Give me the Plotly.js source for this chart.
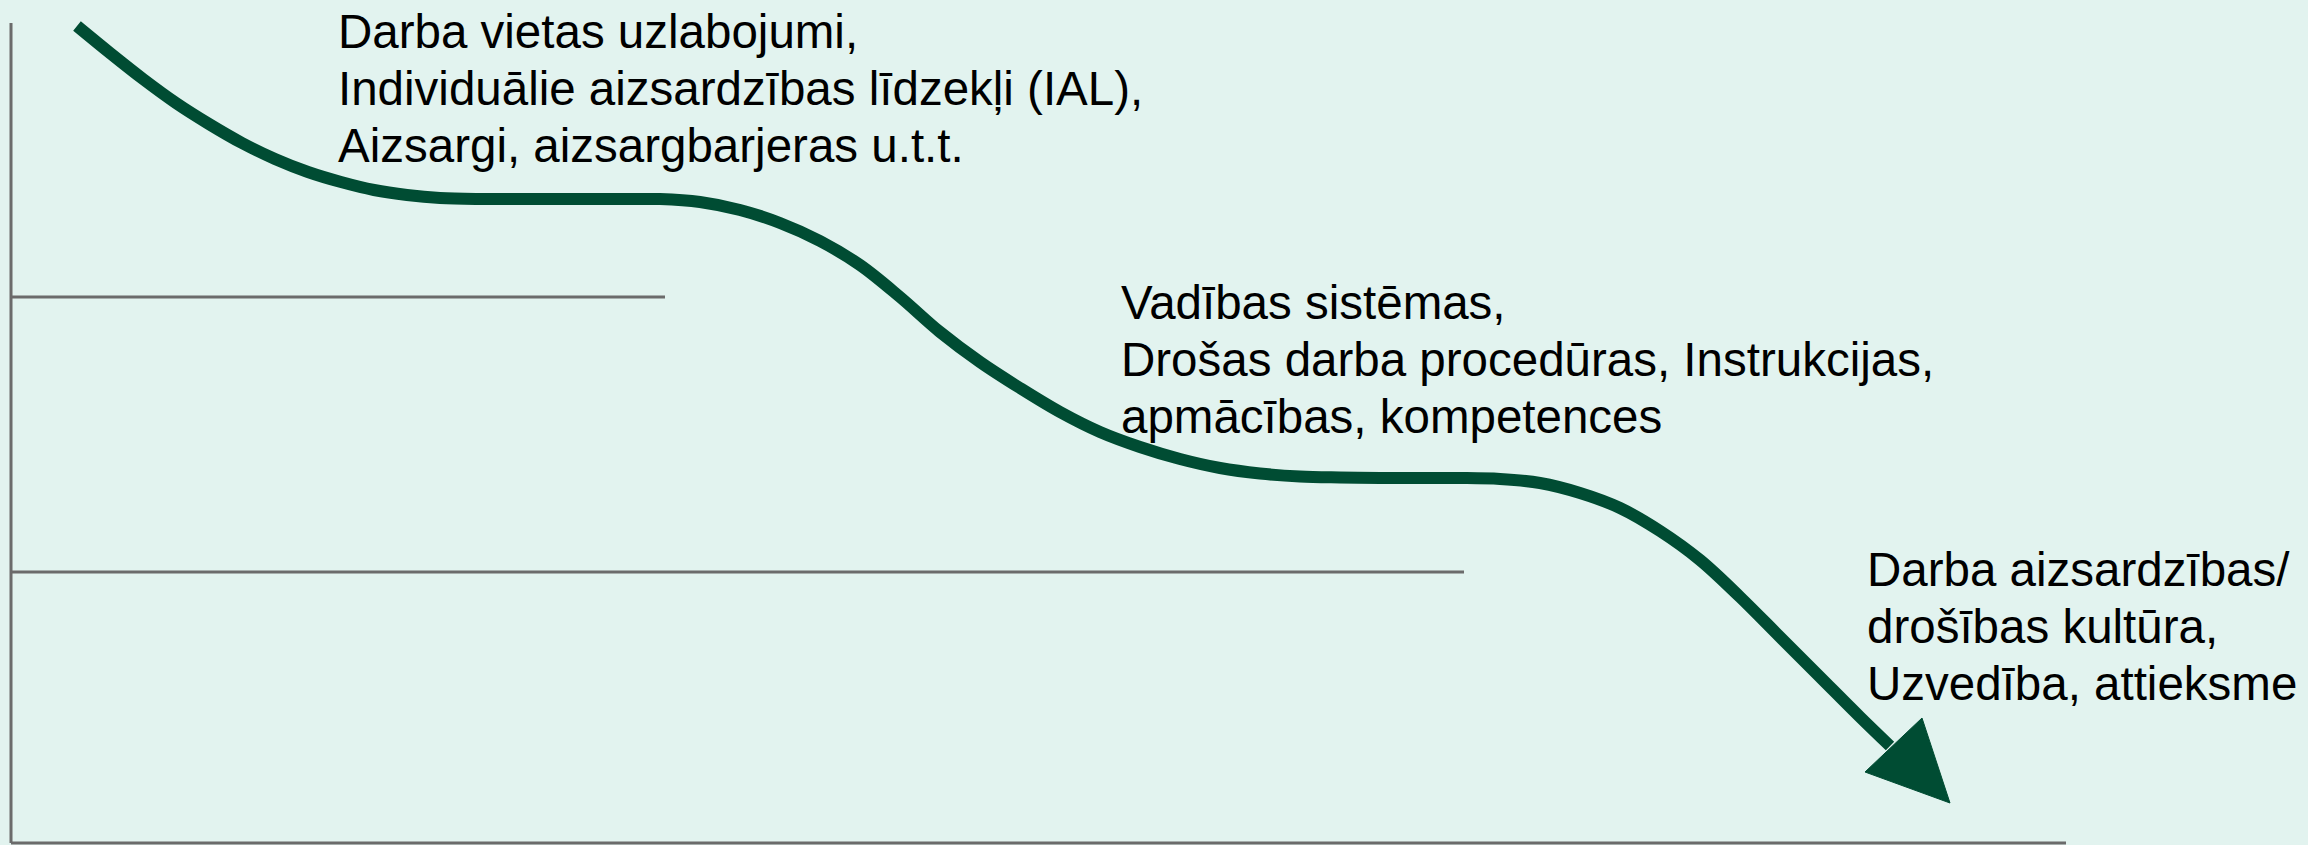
<!DOCTYPE html>
<html>
<head>
<meta charset="utf-8">
<script src="https://cdn.plot.ly/plotly-3.0.1.min.js"></script>
<style>
  html, body { margin: 0; padding: 0; background: #E2F3EF; }
  #chart { width: 2308px; height: 845px; }
</style>
</head>
<body>
<div id="chart"></div>
<script>
// Path of the descending arrow (diagram coordinates, y grows downward)
const curveX = [77, 110, 143, 176, 209, 242, 275, 308, 341, 374, 407, 440, 480, 520, 560, 600, 640, 660, 700, 740, 780, 820, 860, 900, 940, 980, 1020, 1060, 1100, 1140, 1180, 1220, 1260, 1300, 1340, 1380, 1420, 1460, 1500, 1540, 1580, 1620, 1660, 1700, 1740, 1780, 1820, 1860, 1890];
const curveY = [26, 53, 79, 103, 124, 143, 159, 172, 182, 190, 195, 198, 199, 199, 199, 199, 199, 199, 202, 210, 223, 241, 265, 297, 332, 362, 388, 412, 432, 447, 459, 468, 473.5, 476.5, 477.5, 478, 478, 478, 479, 483, 493, 508, 531, 560, 597, 637, 677, 717, 746];

// Arrow head triangle
const headX = [1865, 1922, 1950, 1865];
const headY = [772, 718, 803, 772];

// Frame: vertical axis + three level lines
const axisX = [11, 11];
const axisY = [23, 843];
const level1X = [11, 665];
const level1Y = [297, 297];
const level2X = [11, 1464];
const level2Y = [572, 572];
const baseX = [11, 2066];
const baseY = [843, 843];

// Text blocks (one entry per line)
const block1 = ["Darba vietas uzlabojumi,", "Individuālie aizsardzības līdzekļi (IAL),", "Aizsargi, aizsargbarjeras u.t.t."];
const block2 = ["Vadības sistēmas,", "Drošas darba procedūras, Instrukcijas,", "apmācības, kompetences"];
const block3 = ["Darba aizsardzības/", "drošības kultūra,", "Uzvedība, attieksme"];

const grey = '#6B6B6B';
const green = '#004C33';

function seg(x, y) {
  return { x: x, y: y, mode: 'lines', type: 'scatter', hoverinfo: 'skip',
           line: { color: grey, width: 3 }, showlegend: false };
}

const traces = [
  seg(axisX, axisY),
  seg(level1X, level1Y),
  seg(level2X, level2Y),
  seg(baseX, baseY),
  { x: curveX, y: curveY, mode: 'lines', type: 'scatter', hoverinfo: 'skip', showlegend: false,
    line: { color: green, width: 12, shape: 'spline', smoothing: 1 } },
  { x: headX, y: headY, mode: 'lines', type: 'scatter', fill: 'toself', fillcolor: green,
    hoverinfo: 'skip', showlegend: false, line: { color: green, width: 1 } }
];

const FS = 47.5;
const fontSpec = { family: 'Liberation Sans, Arial, sans-serif', size: FS, color: '#000000' };
const annotations = [];
function addBlock(lines, x, firstBaseline, spacing) {
  lines.forEach(function (t, i) {
    annotations.push({
      text: t, x: x, y: firstBaseline + i * spacing - Math.round(FS * 0.905) - 1,
      xref: 'x', yref: 'y', xanchor: 'left', yanchor: 'top',
      showarrow: false, align: 'left', font: fontSpec
    });
  });
}
addBlock(block1, 336, 47, 57);
addBlock(block2, 1119, 318, 57);
addBlock(block3, 1865, 585, 57);

const layout = {
  width: 2308, height: 845,
  margin: { l: 0, r: 0, t: 0, b: 0 },
  paper_bgcolor: '#E2F3EF', plot_bgcolor: '#E2F3EF',
  xaxis: { range: [0, 2308], visible: false, fixedrange: true },
  yaxis: { range: [845, 0], visible: false, fixedrange: true },
  annotations: annotations,
  showlegend: false
};

Plotly.newPlot('chart', traces, layout, { staticPlot: true, displayModeBar: false });
</script>
</body>
</html>
